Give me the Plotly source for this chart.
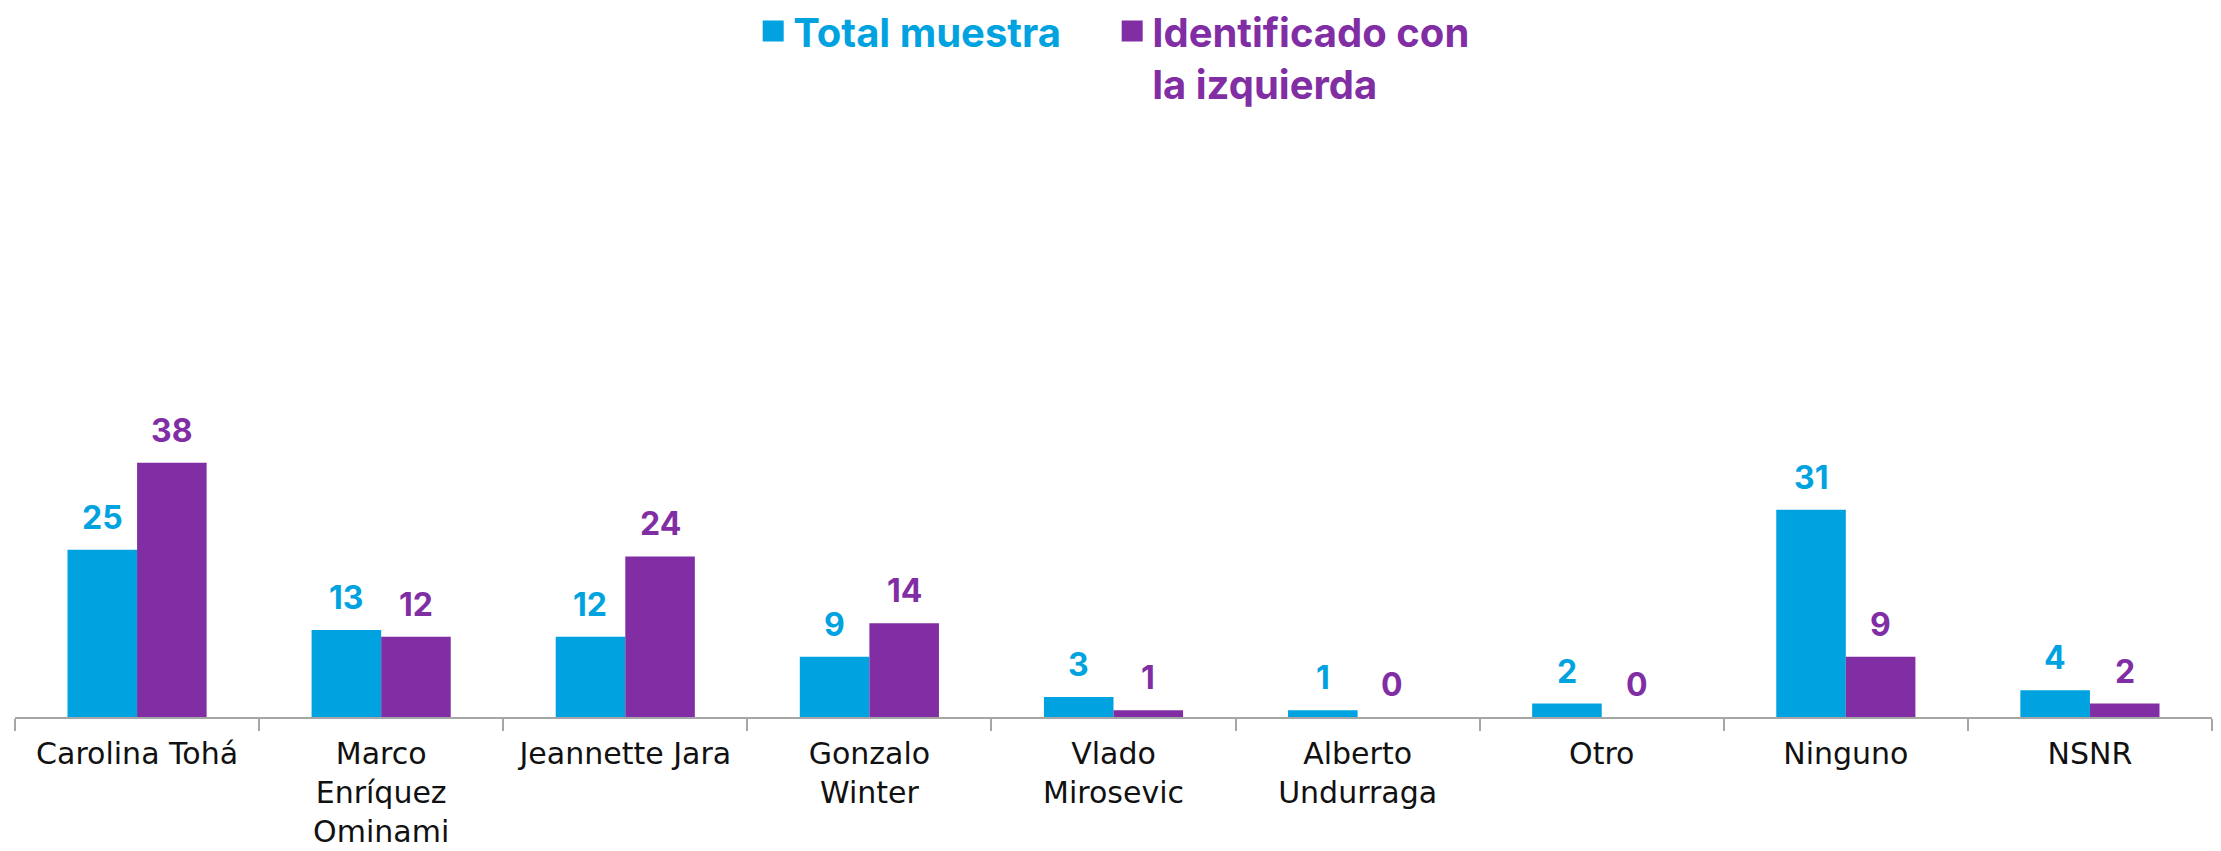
import plotly.graph_objects as go

categories = ["Carolina Tohá", "Marco<br>Enríquez<br>Ominami", "Jeannette Jara",
              "Gonzalo<br>Winter", "Vlado<br>Mirosevic", "Alberto<br>Undurraga",
              "Otro", "Ninguno", "NSNR"]
total_muestra = [25, 13, 12, 9, 3, 1, 2, 31, 4]
izquierda = [38, 12, 24, 14, 1, 0, 0, 9, 2]

series_names = ["Total muestra", "Identificado con<br>la izquierda"]
colors = ["#00A3E0", "#812EA5"]
FONT = "Inter"
TICK_FONT = "DejaVu Sans"

bargap = 0.43
half = (1 - bargap) / 2  # width of one bar in category units

fig = go.Figure()
for vals, col in zip([total_muestra, izquierda], colors):
    fig.add_trace(go.Bar(x=categories, y=vals, marker=dict(color=col, line=dict(width=0)),
                         showlegend=False, hoverinfo="skip"))

# legend entries with larger square markers
for name, col in zip(series_names, colors):
    fig.add_trace(go.Scatter(x=[None], y=[None], mode="markers",
                             marker=dict(symbol="square", size=16, color=col, line=dict(width=5, color=col)),
                             name=f"<b><span style='color:{col}'>{name}</span></b>"))

annotations = []
for sign, vals, col in [(-1, total_muestra, colors[0]), (1, izquierda, colors[1])]:
    for i, v in enumerate(vals):
        annotations.append(dict(x=i + sign * half / 2, y=v, xref="x", yref="y",
                                text=f"<b>{v}</b>", showarrow=False, yanchor="bottom",
                                yshift=11, font=dict(family=FONT, size=32, color=col)))

# page body adds an 8px offset, so the figure is sized to fit inside the window
fig.update_layout(
    width=2213, height=843,
    paper_bgcolor="white", plot_bgcolor="white",
    margin=dict(l=7, r=9, t=107, b=134, autoexpand=False),
    barmode="group", bargap=bargap, bargroupgap=0,
    font=dict(family=FONT, color="#111111"),
    annotations=annotations,
    legend=dict(orientation="h", x=0.336, xanchor="left", yref="paper", y=1.1935, yanchor="top",
                font=dict(family=FONT, size=40), entrywidth=314, entrywidthmode="pixels",
                valign="top", bgcolor="rgba(0,0,0,0)", itemclick=False, tracegroupgap=0),
    xaxis=dict(type="category", range=[-0.5, len(categories) - 0.5], automargin=False,
               showline=True, linecolor="#A6A6A6", linewidth=2,
               ticks="outside", tickson="boundaries", ticklen=12, tickcolor="#A6A6A6", tickwidth=2,
               ticklabelstandoff=9,
               tickfont=dict(family=TICK_FONT, size=30, color="#111111"), showgrid=False, zeroline=False),
    yaxis=dict(range=[0, 90], showgrid=False, zeroline=False, showticklabels=False, showline=False,
               automargin=False),
)

fig.write_html("out.html")
